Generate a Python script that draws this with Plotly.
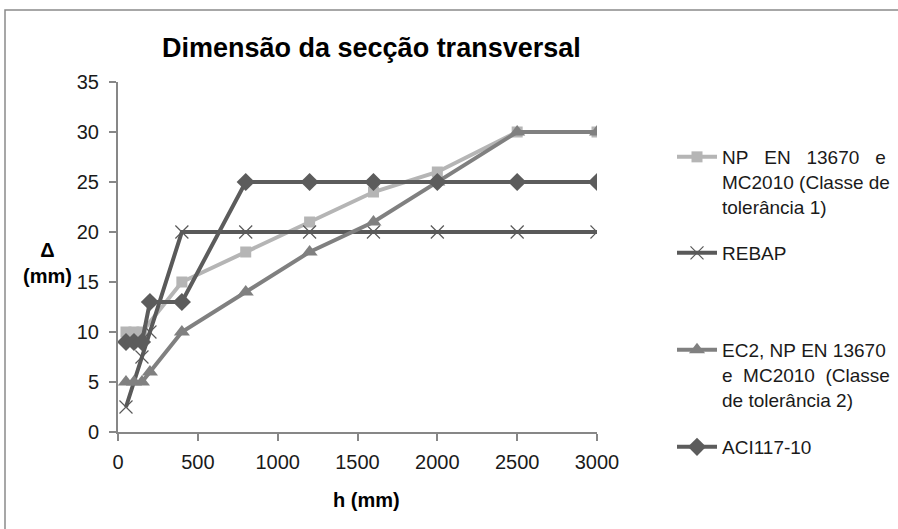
import plotly.graph_objects as go

# Cross-section dimension tolerances (Δ, mm) against section height h (mm)
h_class1 = [50, 100, 150, 400, 800, 1200, 1600, 2000, 2500, 3000]
d_class1 = [10, 10, 10, 15, 18, 21, 24, 26, 30, 30]

h_rebap = [50, 150, 200, 400, 800, 1200, 1600, 2000, 2500, 3000]
d_rebap = [2.5, 7.5, 10, 20, 20, 20, 20, 20, 20, 20]

h_class2 = [50, 100, 150, 200, 400, 800, 1200, 1600, 2000, 2500, 3000]
d_class2 = [5, 5, 5, 6, 10, 14, 18, 21, 25, 30, 30]

h_aci = [50, 100, 150, 200, 400, 800, 1200, 1600, 2000, 2500, 3000]
d_aci = [9, 9, 9, 13, 13, 25, 25, 25, 25, 25, 25]

x_ticks = [0, 500, 1000, 1500, 2000, 2500, 3000]
y_ticks = [0, 5, 10, 15, 20, 25, 30, 35]

NB = "\u00a0"
name_class1 = f"NP{NB*3}EN{NB*3}13670{NB*3}e<br>MC2010 (Classe de<br>tolerância 1)"
name_rebap = "REBAP"
name_class2 = f"EC2,{NB}NP{NB}EN{NB}13670<br>e{NB*2}MC2010{NB*2}(Classe<br>de tolerância 2)"
name_aci = "ACI117-10"

FONT = "Liberation Sans, Arial, sans-serif"
TXT = "#1a1a1a"

W, H = 898, 529
L, R, T, B = 118, 301, 82, 97
PW, PH = W - L - R, H - T - B


def px_x(px):
    return (px - L) / PW


def px_y(py):
    return (H - B - py) / PH


fig = go.Figure()

fig.add_trace(go.Scatter(
    x=h_class1, y=d_class1, name=name_class1, mode="lines+markers",
    line=dict(color="#b5b5b5", width=4),
    marker=dict(symbol="square", size=11, color="#b5b5b5"),
    legend="legend",
))
fig.add_trace(go.Scatter(
    x=h_rebap, y=d_rebap, name=name_rebap, mode="lines+markers",
    line=dict(color="#595959", width=4),
    marker=dict(symbol="x-thin-open", size=13, color="#595959",
                line=dict(width=1.2, color="#595959")),
    legend="legend2",
))
fig.add_trace(go.Scatter(
    x=h_class2, y=d_class2, name=name_class2, mode="lines+markers",
    line=dict(color="#808080", width=4),
    marker=dict(symbol="triangle-up", size=14, color="#808080"),
    legend="legend3",
))
fig.add_trace(go.Scatter(
    x=h_aci, y=d_aci, name=name_aci, mode="lines+markers",
    line=dict(color="#5c5c5c", width=4),
    marker=dict(symbol="diamond", size=14, color="#5c5c5c"),
    legend="legend4",
))

# legends are placed in container coordinates so they don't push the plot margins
legend_common = dict(
    font=dict(family=FONT, size=19, color=TXT),
    bgcolor="rgba(0,0,0,0)",
    itemwidth=40,
    valign="top",
    xref="container",
    yref="container",
    xanchor="left",
    yanchor="top",
    x=672 / W,
)

fig.update_layout(
    width=W, height=H,
    margin=dict(l=L, r=R, t=T, b=B, autoexpand=False),
    paper_bgcolor="white",
    plot_bgcolor="white",
    font=dict(family=FONT, size=20, color=TXT),
    showlegend=True,
    legend=dict(**legend_common, y=1 - 138 / H),
    legend2=dict(**legend_common, y=1 - 234 / H),
    legend3=dict(**legend_common, y=1 - 331 / H),
    legend4=dict(**legend_common, y=1 - 428 / H),
    xaxis=dict(
        range=[0, 3000], tickvals=x_ticks, showgrid=False, zeroline=False,
        showline=True, linecolor="#878787", linewidth=2,
        ticks="outside", ticklen=7, tickcolor="#878787", tickwidth=2,
        tickfont=dict(family=FONT, size=20, color=TXT),
        ticklabelstandoff=4,
    ),
    yaxis=dict(
        range=[0, 35], tickvals=y_ticks, showgrid=False, zeroline=False,
        showline=True, linecolor="#878787", linewidth=2,
        ticks="outside", ticklen=7, tickcolor="#878787", tickwidth=2,
        tickfont=dict(family=FONT, size=20, color=TXT),
        ticklabelstandoff=6,
    ),
    shapes=[dict(
        type="rect", xref="paper", yref="paper",
        x0=px_x(5), x1=px_x(910), y0=px_y(545), y1=px_y(10),
        line=dict(color="#8a8a8a", width=1.5), fillcolor="rgba(0,0,0,0)",
        layer="below",
    )],
    annotations=[
        dict(text="<b>Dimensão da secção transversal</b>", xref="paper", yref="paper",
             x=px_x(371), y=px_y(48), xanchor="center", yanchor="middle",
             showarrow=False, font=dict(family=FONT, size=27, color="#000")),
        dict(text="<b>Δ<br>(mm)</b>", xref="paper", yref="paper",
             x=px_x(47), y=px_y(263), xanchor="center", yanchor="middle",
             showarrow=False, font=dict(family=FONT, size=20, color="#000")),
        dict(text="<b>h (mm)</b>", xref="paper", yref="paper",
             x=px_x(366), y=px_y(500), xanchor="center", yanchor="middle",
             showarrow=False, font=dict(family=FONT, size=20, color="#000")),
    ],
)

fig.write_html("out.html")
